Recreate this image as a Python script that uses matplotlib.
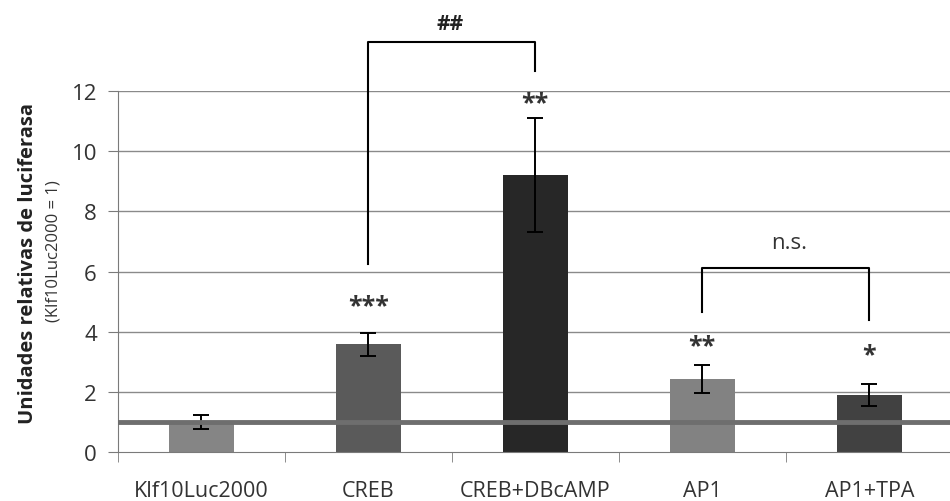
import matplotlib
matplotlib.use("Agg")
import matplotlib.pyplot as plt

plt.rcParams["font.family"] = ["Open Sans", "DejaVu Sans"]

# data
categories = ["Klf10Luc2000", "CREB", "CREB+DBcAMP", "AP1", "AP1+TPA"]
means = [1.0, 3.58, 9.2, 2.43, 1.9]
errors = [0.23, 0.39, 1.9, 0.46, 0.36]
stars = ["", "***", "**", "**", "*"]
star_y = [0, 4.85, 11.6, 3.55, 3.25]
bar_colors = ["#858585", "#5a5a5a", "#272727", "#828282", "#414141"]

fig = plt.figure(figsize=(9.5, 5.02), dpi=100)
ax = fig.add_axes([0.124, 0.0976, 0.879, 0.719])

x = list(range(len(categories)))
ax.set_xlim(-0.5, 4.5)
ax.set_ylim(0, 12)

# gridlines
for g in range(2, 13, 2):
    ax.axhline(g, color="#8a8a8a", lw=1, zorder=0)

ax.bar(x, means, width=0.39, color=bar_colors, zorder=2)
ax.errorbar(x, means, yerr=errors, fmt="none", ecolor="black",
            elinewidth=1.4, capsize=6, capthick=1.4, zorder=3)

# reference line at 1
ax.axhline(1, color="#6e6e6e", lw=3.5, zorder=4)

for xi, s, sy in zip(x, stars, star_y):
    if s:
        ax.text(xi, sy, s, ha="center", va="center", fontsize=18,
                color="#333333", fontweight="bold", zorder=5)

# brackets
ax.plot([1, 1, 2, 2], [6.25, 13.62, 13.62, 12.66], color="black",
        lw=1.5, clip_on=False, zorder=5)
ax.text(1.49, 14.25, "##", ha="center", va="center", fontsize=15,
        color="#222222", fontweight="bold")
ax.plot([3, 3, 4, 4], [4.65, 6.11, 6.11, 4.39], color="black",
        lw=1.5, clip_on=False, zorder=5)
ax.text(3.52, 6.95, "n.s.", ha="center", va="center", fontsize=16,
        color="#333333")

# axes styling
for side in ["top", "right"]:
    ax.spines[side].set_visible(False)
ax.spines["left"].set_color("#7a7a7a")
ax.spines["bottom"].set_color("#7a7a7a")
ax.set_yticks(range(0, 13, 2))
ax.tick_params(axis="y", direction="out", length=7, color="#7a7a7a",
               labelsize=16, labelcolor="#333333", pad=8)
ax.set_xticks(x)
ax.set_xticklabels(categories)
ax.tick_params(axis="x", length=0, labelsize=15.5, labelcolor="#333333", pad=20)
ax.set_xticks([i - 0.5 for i in range(len(categories) + 1)], minor=True)
ax.tick_params(axis="x", which="minor", direction="out", length=7,
               color="#7a7a7a")

fig.text(0.03, 0.476, "Unidades relativas de luciferasa", rotation=90,
         ha="center", va="center", fontsize=14.5, fontweight="bold",
         color="#222222")
fig.text(0.056, 0.50, "(Klf10Luc2000 = 1)", rotation=90, ha="center",
         va="center", fontsize=12, color="#333333")

fig.savefig("out.png", dpi=100)
